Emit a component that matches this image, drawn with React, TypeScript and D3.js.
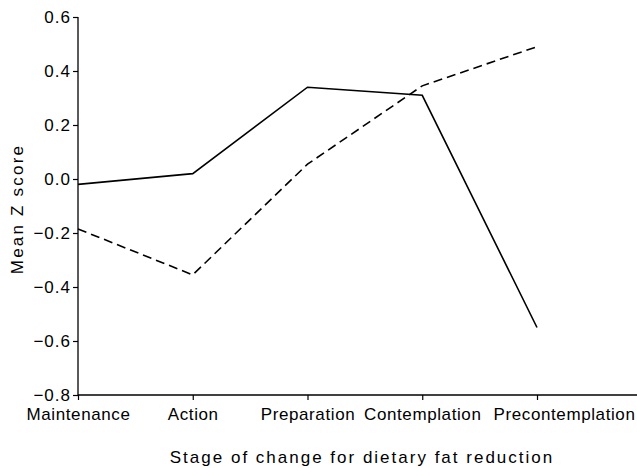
import { useRef, useEffect } from 'react';
import * as d3 from 'd3';

const WIDTH = 637;
const HEIGHT = 468;

const stages = ['Maintenance', 'Action', 'Preparation', 'Contemplation', 'Precontemplation'];
const solidSeries = [-0.02, 0.02, 0.34, 0.31, -0.55];
const dashedSeries = [-0.185, -0.355, 0.055, 0.345, 0.49];
const yTicks = [-0.8, -0.6, -0.4, -0.2, 0.0, 0.2, 0.4, 0.6];

const FONT = 'Liberation Sans, Arial, Helvetica, sans-serif';

const App = () => {
  const svgRef = useRef<SVGSVGElement>(null);

  useEffect(() => {
    const svg = d3.select(svgRef.current);
    svg.selectAll('*').remove();

    const x = d3.scalePoint<string>().domain(stages).range([78, 537]);
    const y = d3.scaleLinear().domain([-0.8, 0.6]).range([395, 17]);

    const fmt = (v: number) => d3.format('.1f')(v).replace('-', '\u2212');

    // y axis
    const yAxis = svg.append('g')
      .attr('transform', 'translate(78,0)')
      .call(d3.axisLeft(y).tickValues(yTicks).tickFormat(d => fmt(+d)).tickSize(5).tickPadding(2));
    yAxis.select('.domain').attr('d', `M0,${y(0.6)}V${y(-0.8)}`).attr('stroke-width', 1.3);
    yAxis.selectAll('.tick line').attr('stroke-width', 1.2);
    yAxis.selectAll('.tick text')
      .attr('font-family', FONT)
      .attr('font-size', 17)
      .attr('letter-spacing', 1)
      .attr('fill', '#000');

    // x axis
    const xAxis = svg.append('g')
      .attr('transform', `translate(0,${y(-0.8)})`)
      .call(d3.axisBottom(x).tickSize(5).tickPadding(8));
    xAxis.select('.domain').attr('d', `M78,0H${WIDTH + 5}`).attr('stroke-width', 1.3);
    xAxis.selectAll('.tick line').attr('stroke-width', 1.2);
    xAxis.selectAll<SVGTextElement, string>('.tick text')
      .attr('font-family', FONT)
      .attr('font-size', 17)
      .attr('letter-spacing', 0.6)
      .attr('fill', '#000')
      // last label sits right of its tick in the original
      .attr('dx', d => (d === 'Precontemplation' ? 27 : 0));

    const line = d3.line<number>()
      .x((d, i) => x(stages[i]) as number)
      .y(d => y(d));

    svg.append('path')
      .datum(solidSeries)
      .attr('fill', 'none')
      .attr('stroke', '#000')
      .attr('stroke-width', 1.6)
      .attr('stroke-linejoin', 'miter')
      .attr('d', line);

    svg.append('path')
      .datum(dashedSeries)
      .attr('fill', 'none')
      .attr('stroke', '#000')
      .attr('stroke-width', 1.6)
      .attr('stroke-dasharray', '9,5')
      .attr('d', line);

    // axis titles
    svg.append('text')
      .attr('x', 362)
      .attr('y', 463)
      .attr('text-anchor', 'middle')
      .attr('font-family', FONT)
      .attr('font-size', 17)
      .attr('letter-spacing', 2)
      .text('Stage of change for dietary fat reduction');

    svg.append('text')
      .attr('transform', 'translate(23,209) rotate(-90)')
      .attr('text-anchor', 'middle')
      .attr('font-family', FONT)
      .attr('font-size', 17)
      .attr('letter-spacing', 2.2)
      .text('Mean Z score');
  }, []);

  return (
    <svg
      ref={svgRef}
      width={WIDTH}
      height={HEIGHT}
      style={{ position: 'absolute', left: 0, top: 0, background: '#fff' }}
    />
  );
};

export default App;
